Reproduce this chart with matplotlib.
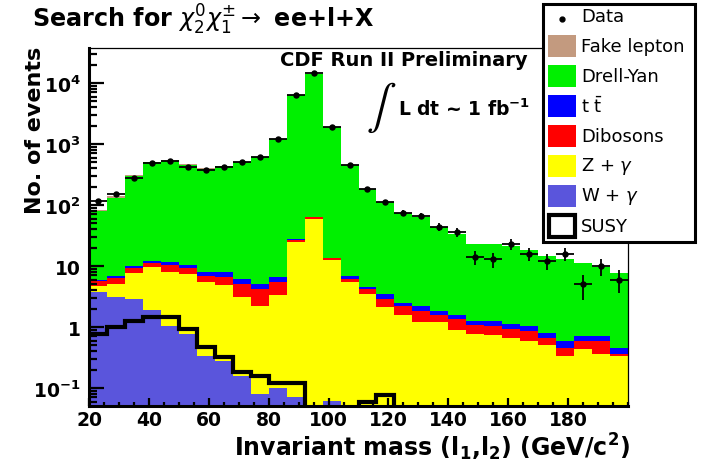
import numpy as np
import matplotlib
matplotlib.use("Agg")
import matplotlib.pyplot as plt
from matplotlib.patches import Rectangle
from matplotlib.ticker import FixedLocator, MultipleLocator, FuncFormatter, LogLocator, NullFormatter

plt.rcParams['font.family'] = ['DejaVu Sans']
plt.rcParams['mathtext.fontset'] = 'dejavusans'

W, H, DPI = 702, 464, 100

# 6 GeV bins from 20 to 200 GeV/c^2
bin_edges = np.arange(20, 201, 6)

data = np.array([115, 151, 275, 490, 525, 420, 375, 420, 505, 610,
                 1200, 6300, 14400, 1920, 458, 182, 112, 74, 66, 44,
                 36, 14, 13, 23, 16, 12, 16, 5, 10, 6])

w_gamma = np.array([3.8, 3.1, 2.9, 1.87, 1.05, 0.77, 0.34, 0.28, 0.16, 0.08,
                    0.10, 0.07, 0.0, 0.06, 0.0, 0.0, 0.0, 0.0, 0.0, 0.0,
                    0.0, 0.0, 0.0, 0.0, 0.0, 0.0, 0.0, 0.0, 0.0, 0.0])
z_gamma = np.array([0.9, 1.9, 4.8, 7.63, 7.05, 6.63, 5.06, 4.62, 2.94, 2.12,
                    3.3, 24.4, 59.0, 12.3, 5.5, 3.5, 2.1, 1.57, 1.22, 1.22,
                    0.90, 0.77, 0.74, 0.65, 0.60, 0.51, 0.33, 0.43, 0.36, 0.34])
dibosons = np.array([0.9, 1.3, 1.5, 1.7, 2.4, 1.9, 1.5, 1.6, 1.9, 2.0,
                     2.0, 2.5, 4.0, 1.0, 0.6, 0.7, 0.8, 0.63, 0.64, 0.38,
                     0.45, 0.31, 0.29, 0.28, 0.27, 0.14, 0.12, 0.15, 0.22, 0.02])
ttbar = np.array([0.4, 0.6, 0.7, 0.7, 1.0, 1.2, 1.0, 1.4, 1.1, 0.8,
                  1.1, 0.5, 1.0, 0.2, 0.8, 0.3, 0.6, 0.3, 0.38, 0.26,
                  0.25, 0.19, 0.24, 0.19, 0.18, 0.15, 0.15, 0.12, 0.12, 0.09])
drell_yan = np.array([75, 125, 287, 490, 522, 437, 381, 426, 495, 606,
                      1203, 6270, 13940, 1856, 448, 177.5, 108.5, 71.5, 60.8, 42.1,
                      31.4, 21.7, 21.7, 20.4, 17.0, 14.0, 12.4, 10.5, 8.8, 7.35])
fake_lepton = np.array([2, 8, 10, 8, 6, 15, 8, 8, 5, 5,
                        0, 0, 0, 0, 0, 0, 0, 0, 0, 0,
                        0, 0, 0, 0, 0, 0, 0, 0, 0, 0])
susy = np.array([0.77, 0.99, 1.27, 1.44, 1.47, 0.93, 0.47, 0.32, 0.18, 0.16,
                 0.12, 0.12, 0.0, 0.0, 0.0, 0.059, 0.077, 0.0, 0.0, 0.0,
                 0.0, 0.0, 0.0, 0.0, 0.0, 0.0, 0.0, 0.0, 0.0, 0.0])

xticks = [20, 40, 60, 80, 100, 120, 140, 160, 180]
ytick_labels = {0.1: r'$\mathbf{10^{-1}}$', 1: '1', 10: '10',
                100: r'$\mathbf{10^{2}}$', 1000: r'$\mathbf{10^{3}}$',
                10000: r'$\mathbf{10^{4}}$'}

colors = {
    'Fake lepton': '#c39a7f',
    'Drell-Yan': '#00f000',
    'ttbar': '#0000ff',
    'Dibosons': '#ff0000',
    'Z + gamma': '#ffff00',
    'W + gamma': '#5a55dc',
}


def fx(px):
    return px / W


def fy(py):
    return 1 - py / H


fig = plt.figure(figsize=(W / DPI, H / DPI), dpi=DPI)
ax = fig.add_axes([fx(89), fy(407), (628 - 89) / W, (407 - 49) / H])

# stacked background histograms, bottom to top
stack = [(w_gamma, colors['W + gamma']), (z_gamma, colors['Z + gamma']),
         (dibosons, colors['Dibosons']), (ttbar, colors['ttbar']),
         (drell_yan, colors['Drell-Yan']), (fake_lepton, colors['Fake lepton'])]
bottom = np.full(len(data), 1e-4)
for vals, col in stack:
    top = bottom + vals
    ax.stairs(top, bin_edges, baseline=bottom, fill=True, color=col, lw=0)
    bottom = top

# signal overlay
ax.stairs(np.where(susy > 0, susy, 1e-4), bin_edges, baseline=None,
          color='black', lw=3.0)

centers = 0.5 * (bin_edges[:-1] + bin_edges[1:])
ax.errorbar(centers, data, xerr=3, yerr=np.sqrt(data), fmt='o', color='black',
            ms=3.6, elinewidth=1.3, capsize=0, zorder=5)

ax.set_xlim(20, 200)
ax.set_yscale('log')
ax.set_ylim(0.0507, 3.75e4)

ax.xaxis.set_major_locator(FixedLocator(xticks))
ax.xaxis.set_minor_locator(MultipleLocator(5))
ax.xaxis.set_major_formatter(FuncFormatter(lambda v, p: f'{int(v)}'))
ax.yaxis.set_major_locator(FixedLocator(list(ytick_labels.keys())))
ax.yaxis.set_minor_locator(LogLocator(base=10, subs=np.arange(2, 10)))
ax.yaxis.set_major_formatter(FuncFormatter(lambda v, p: ytick_labels.get(round(v, 3), '')))
ax.yaxis.set_minor_formatter(NullFormatter())

ax.tick_params(axis='both', which='both', direction='in', top=False, right=False,
               width=1.6, color='black')
ax.tick_params(axis='x', which='major', length=6, pad=3, labelsize=13.5)
ax.tick_params(axis='x', which='minor', length=3)
ax.tick_params(axis='y', which='major', length=11, pad=6, labelsize=13.5)
ax.tick_params(axis='y', which='minor', length=5.5)
for lab in ax.get_xticklabels() + ax.get_yticklabels():
    lab.set_fontweight('bold')

for side in ('left', 'bottom'):
    ax.spines[side].set_linewidth(2.2)
for side in ('top', 'right'):
    ax.spines[side].set_linewidth(0.9)

# titles and annotations
fig.text(fx(32), fy(28), r'Search for $\chi_{2}^{0}\chi_{1}^{\pm}\rightarrow$ ee+l+X',
         fontsize=17.2, fontweight='bold', ha='left', va='baseline')
fig.text(fx(35), fy(47), 'No. of events', rotation=90, fontsize=16,
         fontweight='bold', ha='center', va='top')
fig.text(fx(630), fy(456), r'Invariant mass (l$_{\mathbf{1}}$,l$_{\mathbf{2}}$) (GeV/c$^{\mathbf{2}}$)',
         fontsize=17, fontweight='bold', ha='right', va='baseline')
fig.text(fx(280), fy(66), 'CDF Run II Preliminary', fontsize=14,
         fontweight='bold', ha='left', va='baseline')
fig.text(fx(381), fy(108), r'$\int$', fontsize=32, ha='center', va='center',
         math_fontfamily='stix')
fig.text(fx(398), fy(116), r'L dt ~ 1 fb$^{\mathbf{-1}}$', fontsize=13.5,
         fontweight='bold', ha='left', va='baseline')

# legend panel
lax = fig.add_axes([fx(543), fy(243), 152 / W, 238 / H])
lax.set_xlim(543, 695)
lax.set_ylim(243, 5)
lax.axis('off')
lax.add_patch(Rectangle((543, 5), 152, 238, facecolor='white', edgecolor='black',
                        lw=2.2, clip_on=False, zorder=0))
entries = [('Data', None), ('Fake lepton', colors['Fake lepton']),
           ('Drell-Yan', colors['Drell-Yan']), (r't $\bar{\mathrm{t}}$', colors['ttbar']),
           ('Dibosons', colors['Dibosons']), (r'Z + $\gamma$', colors['Z + gamma']),
           (r'W + $\gamma$', colors['W + gamma']), ('SUSY', 'outline')]
for i, (label, col) in enumerate(entries):
    yc = 17 + 30 * i
    if col is None:
        lax.plot([562], [yc + 3], 'o', color='black', ms=3.5)
    elif col == 'outline':
        lax.add_patch(Rectangle((549, yc - 11), 26, 22, facecolor='white',
                                edgecolor='black', lw=3.0, clip_on=False))
    else:
        lax.add_patch(Rectangle((548, yc - 11), 28, 22, facecolor=col,
                                edgecolor='none'))
    lax.text(581, yc, label, fontsize=13, ha='left', va='center')

fig.savefig('out.png', dpi=DPI)
